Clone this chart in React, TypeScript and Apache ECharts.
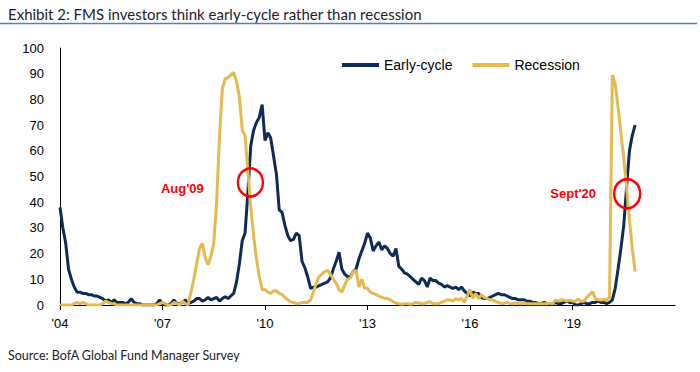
import React, { useEffect, useRef } from "react";
import * as echarts from "echarts";

const startYear = 2004;
const xTickYears = [2004, 2007, 2010, 2013, 2016, 2019];
const xTickLabels = ["'04", "'07", "'10", "'13", "'16", "'19"];
const seriesNames = ["Early-cycle", "Recession"];

// Monthly values, Jan 2004 .. Nov 2020 (one row per year)
const earlyCycle = [
  38, 30, 24, 14, 10, 7, 5, 5, 4.5, 4.5, 4, 4,
  3.5, 3.5, 3, 2.5, 1.5, 2, 1, 2, 1, 1, 1, 0.5,
  1, 2.5, 1, 0.5, 0.5, 0, 0, 0, 0, 0, 0.5, 2,
  0.5, 0, 0, 0.5, 2, 0.5, 0.5, 1, 2, 0.5, 1, 1.5,
  2.5, 2.5, 1.5, 2, 3, 2, 2.5, 3, 1.5, 2.5, 3.2, 2.5,
  3.5, 4.5, 9, 16, 25, 28, 44, 62, 68, 71, 73, 78,
  64, 67, 65, 58, 51, 37, 36, 31, 27, 25, 25.5, 28,
  27, 17, 14.5, 11, 6.5, 7, 7, 7.5, 8, 8.5, 9, 10.5,
  14, 17, 20.5, 14, 12, 11, 11, 13, 14, 18, 21, 24,
  28, 26, 21, 23, 24.5, 21.5, 23, 22, 20, 19, 22, 15,
  14, 12.5, 12, 11, 10, 9, 8, 10.5, 9.5, 7, 10.5, 9.5,
  9.5, 8.5, 8, 7, 7.5, 7, 6.5, 7, 6, 7, 5.5, 4.5,
  3.5, 5, 4.5, 4.5, 3, 2.5, 2.5, 3, 3.5, 4, 4.5, 4,
  4, 3.5, 3, 2.5, 2.5, 2, 2, 2, 1.5, 1.5, 1, 1,
  0.5, 0.5, 1, 0.5, 0.5, 0.5, 1, 0.5, 0.5, 1, 1.5, 1,
  1, 0, 0, 0.5, 1, 0.5, 0.5, 1, 1, 1.5, 1, 1,
  0.5, 1, 2, 6.5, 14, 22, 31, 46, 60, 66, 70,
];

const recession = [
  0, 0, 0, 0, 0, 0.5, 1, 0.5, 1, 0.5, 0, 0,
  0, 0, 0, 0.5, 1.5, 1, 0.5, 0.5, 0, 0, 0, 0,
  0, 0, 0, 0, 0, 0, 0, 0, 0, 0, 0, 0.5,
  1, 0.5, 0, 0, 1, 0.5, 0, 1.5, 0.5, 0, 5, 10,
  16, 22, 24, 18.5, 15.6, 19, 24, 40, 65, 84, 88, 88.5,
  89.5, 90.5, 87, 81, 68, 66, 52, 38, 27, 18, 11, 6,
  6, 5, 4.5, 5.5, 5.5, 4.5, 4, 3, 2, 1.3, 1, 0.5,
  0.6, 1, 1, 1, 2, 5, 8.5, 11, 12, 13, 13.5, 12,
  10, 8.5, 6, 5, 8, 10, 10.5, 13, 13.5, 7, 10, 6.5,
  6.5, 5, 4.5, 4, 3.5, 3, 2.6, 2.5, 2, 1.3, 0.8, 0.5,
  0.3, 0.5, 0.5, 0.3, 0.5, 1, 0.8, 0.5, 0.5, 1, 1.3, 0.5,
  0.5, 0.5, 1, 1.5, 2, 1.9, 1.5, 2.5, 1.9, 2.6, 1, 3.5,
  6, 2.5, 4.5, 2.5, 4, 3, 2.5, 2, 1.9, 1.3, 1, 0.6,
  0.6, 1, 0.6, 0.5, 0.8, 0.6, 0.5, 0.8, 0.5, 0.5, 0.5, 0.5,
  0.5, 0.5, 0.5, 0.5, 0.8, 0.5, 1.9, 1.5, 2, 1.9, 1.5, 1.9,
  1.5, 1.5, 2.2, 1.5, 1.5, 3, 4, 5.2, 2.6, 2, 1.9, 2,
  2, 3, 89.5, 86, 77, 67, 57, 46, 33, 22, 13,
];

const annotationLabels = ["Aug'09", "Sept'20"];

const NAVY = "#0F2B55";
const GOLD = "#E4BA4F";
const RED = "#FF0000";
const AXIS_FONT = "'Liberation Sans', Arial, sans-serif";
const TEXT_FONT = "Lato, 'Open Sans', sans-serif";

export default function App() {
  const ref = useRef<HTMLDivElement>(null);

  useEffect(() => {
    if (!ref.current) return;
    const chart = echarts.init(ref.current, null, { renderer: "svg" });
    const toPoints = (vals: number[]) =>
      vals.map((v, i) => [startYear + i / 12, v]);

    const circleStyle = {
      color: "transparent",
      borderColor: RED,
      borderWidth: 2.5,
    };
    const textPoint = (name: string, coord: number[]) => ({
      coord,
      symbol: "circle",
      symbolSize: 2,
      itemStyle: { color: "transparent" },
      label: {
        show: true,
        position: "inside",
        formatter: name,
        color: RED,
        fontWeight: "bold",
        fontSize: 13,
        fontFamily: AXIS_FONT,
      },
    });

    chart.setOption({
      animation: false,
      backgroundColor: "#ffffff",
      grid: {
        left: 60,
        right: 25,
        top: 48,
        bottom: 67,
        containLabel: false,
        outerBoundsMode: "none",
      },
      legend: {
        left: 337,
        top: 53,
        icon: "rect",
        itemWidth: 37,
        itemHeight: 4,
        itemGap: 20,
        data: seriesNames,
        textStyle: { fontSize: 14, color: "#000", fontFamily: AXIS_FONT },
      },
      xAxis: {
        type: "value",
        min: 2004,
        max: 2022,
        interval: 3,
        splitLine: { show: false },
        axisLine: { show: true, lineStyle: { color: "#000", width: 1 } },
        axisTick: {
          show: true,
          length: 5,
          inside: false,
          customValues: xTickYears,
          lineStyle: { color: "#000" },
        },
        axisLabel: {
          customValues: xTickYears,
          margin: 12,
          fontSize: 13,
          color: "#000",
          fontFamily: AXIS_FONT,
          formatter: (v: number) => {
            const idx = xTickYears.indexOf(Math.round(v));
            return idx >= 0 ? xTickLabels[idx] : "";
          },
        },
      },
      yAxis: {
        type: "value",
        min: 0,
        max: 100,
        interval: 10,
        splitLine: { show: false },
        axisLine: { show: true, lineStyle: { color: "#000", width: 1 } },
        axisTick: { show: false },
        axisLabel: {
          margin: 16,
          fontSize: 13,
          color: "#000",
          fontFamily: AXIS_FONT,
        },
      },
      series: [
        {
          name: seriesNames[0],
          type: "line",
          data: toPoints(earlyCycle),
          showSymbol: false,
          symbol: "none",
          color: NAVY,
          lineStyle: { color: NAVY, width: 3 },
          z: 2,
        },
        {
          name: seriesNames[1],
          type: "line",
          data: toPoints(recession),
          showSymbol: false,
          symbol: "none",
          color: GOLD,
          lineStyle: { color: GOLD, width: 3 },
          z: 3,
          markPoint: {
            silent: true,
            z: 10,
            data: [
              {
                coord: [2009.573, 47.7],
                symbol: "circle",
                symbolSize: [25, 28],
                itemStyle: circleStyle,
                label: { show: false },
              },
              {
                coord: [2020.6, 43.3],
                symbol: "circle",
                symbolSize: [26, 29],
                itemStyle: circleStyle,
                label: { show: false },
              },
              textPoint(annotationLabels[0], [2007.58, 45.5]),
              textPoint(annotationLabels[1], [2019.02, 43.2]),
            ],
          },
        },
      ],
      graphic: [
        {
          type: "text",
          left: 8,
          top: 6,
          style: {
            text: "Exhibit 2: FMS investors think early-cycle rather than recession",
            fontSize: 15,
            fontFamily: TEXT_FONT,
            fill: "#1b1b2b",
          },
        },
        {
          type: "line",
          shape: { x1: 0, y1: 23.5, x2: 697, y2: 23.5 },
          style: { stroke: "#4F81BD", lineWidth: 1.5 },
        },
        {
          type: "text",
          left: 8,
          top: 349,
          style: {
            text: "Source: BofA Global Fund Manager Survey",
            fontSize: 12.5,
            fontFamily: TEXT_FONT,
            fill: "#222",
          },
        },
      ],
    });

    return () => chart.dispose();
  }, []);

  return (
    <div
      ref={ref}
      style={{
        position: "fixed",
        left: 0,
        top: 0,
        width: 700,
        height: 372,
        background: "#fff",
      }}
    />
  );
}
